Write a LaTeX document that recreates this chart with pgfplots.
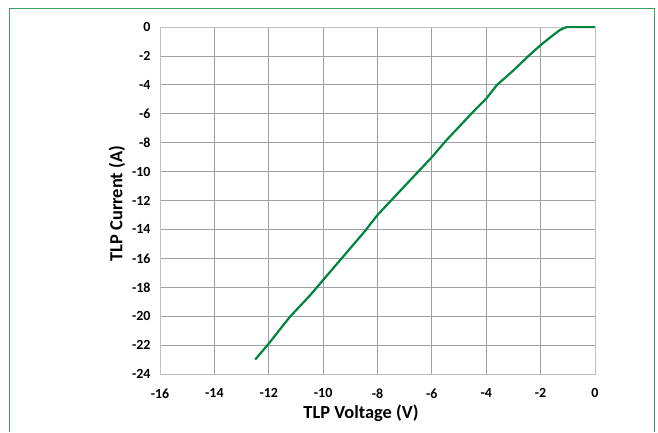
\documentclass[border=0pt]{standalone}
\usepackage{pgfplots}
\pgfplotsset{compat=1.18}
\usepackage{fontspec}
\setmainfont{Carlito}
\definecolor{framegreen}{RGB}{60,160,100}
\definecolor{curvegreen}{RGB}{0,133,63}
\definecolor{gridgray}{RGB}{160,160,160}
\begin{document}
\begin{tikzpicture}[x=1bp,y=1bp]
\path[use as bounding box] (0,0) rectangle (658,432);
\draw[framegreen,line width=1.2bp] (9.5,0) -- (9.5,423.5) -- (654.5,423.5) -- (654.5,0);
\begin{axis}[
  at={(160bp,58bp)}, anchor=south west,
  scale only axis, width=435bp, height=347bp,
  xmin=-16, xmax=0, ymin=-24, ymax=0,
  xtick={-16,-14,...,0}, ytick={-24,-22,...,0},
  grid=major,
  major grid style={gridgray, line width=0.8bp},
  axis line style={gridgray!120!black, line width=0.9bp},
  tick style={draw=none},
  /pgf/number format/assume math mode=true,
  ticklabel style={font=\fontsize{14}{16}\selectfont\bfseries},
  yticklabel style={xshift=-6bp},
  xticklabel style={yshift=-11bp},
  xlabel={TLP Voltage (V)},
  ylabel={TLP Current (A)},
  label style={font=\fontsize{18.5}{22}\selectfont\bfseries},
  xlabel style={at={(axis description cs:0.462,-0.1124)}, anchor=center},
  ylabel style={at={(axis description cs:-0.0989,0.491)}, anchor=center, rotate=0},
]
\addplot[curvegreen, line width=2.2bp, line join=round] coordinates {
(-12.5,-23.0) (-12.0,-21.9) (-11.5,-20.7) (-11.2,-20.0) (-11.0,-19.6)
(-10.5,-18.6) (-10.0,-17.5) (-9.5,-16.4) (-9.0,-15.3) (-8.5,-14.2)
(-8.0,-13.0) (-7.5,-12.0) (-7.0,-11.0) (-6.5,-10.0) (-6.0,-9.0)
(-5.5,-7.9) (-5.0,-6.9) (-4.5,-5.9) (-4.0,-4.95) (-3.6,-4.0)
(-3.0,-3.0) (-2.5,-2.1) (-2.0,-1.25) (-1.6,-0.65) (-1.3,-0.22)
(-1.1,-0.04) (-1.0,0) (0,0)
};
\end{axis}
\end{tikzpicture}
\end{document}
